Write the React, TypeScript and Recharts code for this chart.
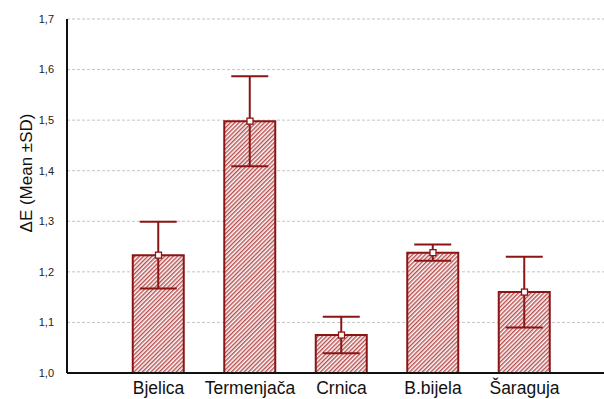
import React from "react";
import {
  ComposedChart,
  Bar,
  Line,
  ErrorBar,
  XAxis,
  YAxis,
  CartesianGrid,
} from "recharts";

const categories = ["Bjelica", "Termenjača", "Crnica", "B.bijela", "Šaraguja"];
const means = [1.233, 1.498, 1.075, 1.238, 1.16];
const sds = [0.066, 0.089, 0.036, 0.016, 0.07];
const yTicks = [1.0, 1.1, 1.2, 1.3, 1.4, 1.5, 1.6, 1.7];

const data = categories.map((name, i) => ({ name, mean: means[i], sd: sds[i] }));

const RED = "#8b1414";
const FONT = "'Liberation Sans', Arial, sans-serif";

const Square = (props: any) => {
  const { cx, cy, index } = props;
  if (cx == null || cy == null) return null;
  return (
    <rect
      key={`sq-${index}`}
      x={cx - 3}
      y={cy - 3}
      width={6}
      height={6}
      fill="#fff"
      stroke={RED}
      strokeWidth={1.3}
    />
  );
};

const YLabel = () => (
  <text
    x={26}
    y={173}
    transform="rotate(-90, 26, 173)"
    textAnchor="middle"
    dominantBaseline="central"
    fontFamily={FONT}
    fontSize={17}
    fill="#111"
  >
    ΔE (Mean ±SD)
  </text>
);

export default function App() {
  return (
    <div
      style={{
        position: "absolute",
        left: 0,
        top: 0,
        width: 604,
        height: 399,
        overflow: "hidden",
        background: "#fff",
      }}
    >
      <ComposedChart
        width={620}
        height={399}
        data={data}
        margin={{ top: 19, right: 4, bottom: 0, left: 0 }}
      >
        <defs>
          <pattern
            id="hatch"
            patternUnits="userSpaceOnUse"
            width={3}
            height={3}
            patternTransform="rotate(45)"
          >
            <rect width={3} height={3} fill="#fff" />
            <line x1={0.75} y1={0} x2={0.75} y2={3} stroke="#b03c3c" strokeWidth={1.3} />
          </pattern>
        </defs>
        <CartesianGrid vertical={false} stroke="#c4c4c4" strokeDasharray="3 2" />
        <XAxis
          dataKey="name"
          padding={{ left: 45.75, right: 45.75 }}
          axisLine={{ stroke: "#111", strokeWidth: 2 }}
          tickLine={false}
          tickMargin={3}
          height={26}
          interval={0}
          tick={{ fontFamily: FONT, fontSize: 17.5, fill: "#111" }}
        />
        <XAxis
          xAxisId="top"
          orientation="top"
          dataKey="name"
          height={0}
          tick={false}
          tickLine={false}
          axisLine={{ stroke: "#111", strokeWidth: 1.5 }}
        />
        <YAxis
          width={67}
          domain={[1, 1.7]}
          ticks={yTicks}
          allowDataOverflow
          axisLine={{ stroke: "#111", strokeWidth: 2 }}
          tickLine={false}
          tickMargin={7}
          tickFormatter={(v: number) => v.toFixed(1).replace(".", ",")}
          tick={{ fontFamily: FONT, fontSize: 11, fill: "#222" }}
          label={<YLabel />}
        />
        <Bar
          dataKey="mean"
          barSize={51}
          fill="url(#hatch)"
          stroke={RED}
          strokeWidth={2}
          isAnimationActive={false}
        >
          <ErrorBar dataKey="sd" width={18.5} stroke={RED} strokeWidth={2} direction="y" />
        </Bar>
        <Line
          dataKey="mean"
          stroke="none"
          dot={Square}
          activeDot={false}
          isAnimationActive={false}
        />
      </ComposedChart>
    </div>
  );
}
